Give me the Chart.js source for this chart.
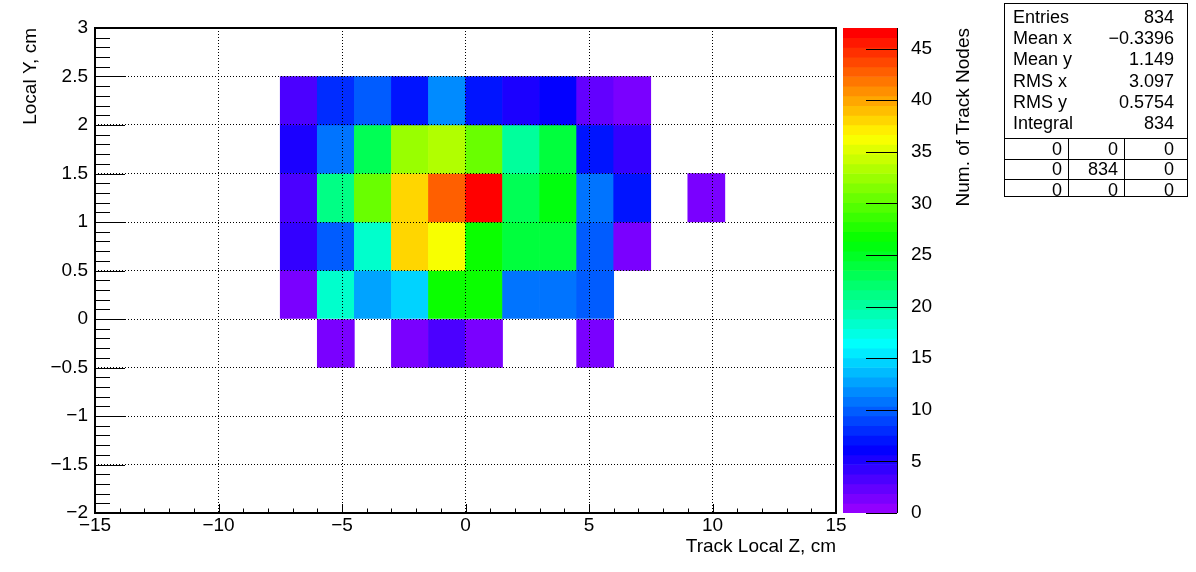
<!DOCTYPE html>
<html>
<head>
<meta charset="utf-8">
<script src="https://cdn.jsdelivr.net/npm/chart.js@4"></script>
<style>
  body { margin: 0; background: #fff; font-family: "Liberation Sans", Arial, sans-serif; color: #000; }
  #wrap { position: relative; width: 1196px; height: 572px; overflow: hidden; }
  #main { position: absolute; left: 0; top: 0; }
  #zbar { position: absolute; left: 843px; top: 0; }
  #ztitle { position: absolute; left: 953px; top: 28px; width: 20px; line-height: 20px; font-size: 19px;
            writing-mode: vertical-rl; transform: rotate(180deg); white-space: nowrap; }
  #stats { position: absolute; left: 1004px; top: 3px; width: 184px; height: 194px; border: 1px solid #000;
           box-sizing: border-box; font-size: 18px; }
  #stats div { position: absolute; line-height: 20px; white-space: nowrap; }
  #stats .hl { left: 0; right: 0; height: 0; border-top: 1px solid #000; }
  #stats .vl { width: 0; bottom: 0; border-left: 1px solid #000; }
</style>
</head>
<body>
<div id="wrap">
  <canvas id="main" width="1196" height="572"></canvas>
  <canvas id="zbar" width="161" height="572"></canvas>
  <div id="ztitle">Num. of Track Nodes</div>
  <div id="stats"></div>
</div>
<script>
"use strict";

// ---------- Data ----------
// lower edges of the filled bins (bin size 1.5 cm in Z, 0.5 cm in Y)
const zBinLow = [-7.5, -6, -4.5, -3, -1.5, 0, 1.5, 3, 4.5, 6, 7.5, 9];
const yBinLow = [2, 1.5, 1, 0.5, 0, -0.5];
const zBinWidth = 1.5;
const yBinHeight = 0.5;

// counts per Y row, one entry per zBinLow column
const countsY2p0 = [3, 8, 10, 7, 12, 7, 5, 6, 2, 1, 0, 0];
const countsY1p5 = [5, 11, 23, 32, 33, 31, 20, 24, 7, 4, 0, 0];
const countsY1p0 = [3, 21, 31, 38, 43, 47, 23, 26, 11, 7, 0, 1];
const countsY0p5 = [4, 10, 18, 38, 36, 27, 24, 24, 10, 1, 0, 0];
const countsY0p0 = [1, 18, 13, 15, 27, 27, 11, 11, 10, 0, 0, 0];
const countsYm0p5 = [0, 1, 0, 1, 3, 1, 0, 0, 1, 0, 0, 0];
const rowCounts = [countsY2p0, countsY1p5, countsY1p0, countsY0p5, countsY0p0, countsYm0p5];

const zMax = 47;
const nColors = 50;

const statNames = ["Entries", "Mean x", "Mean y", "RMS x", "RMS y", "Integral"];
const statValues = ["834", "\u22120.3396", "1.149", "3.097", "0.5754", "834"];
const statGrid = [["0", "0", "0"], ["0", "834", "0"], ["0", "0", "0"]];

// ---------- Helpers ----------
const FONT = '"Liberation Sans", Arial, sans-serif';
Chart.defaults.font.family = FONT;
Chart.defaults.color = "#000";

// ROOT "pretty palette": 50 hues from violet to red
function paletteColor(i) {
  return `hsl(${280 - (i + 1) * (280 / nColors)}, 100%, 50%)`;
}
function zColor(v) {
  return paletteColor(Math.min(nColors - 1, Math.floor(v * nColors / zMax + 0.01)));
}
function fmt(v) {
  return v < 0 ? "\u2212" + Math.abs(v) : String(v);
}

// ticks drawn inside the frame, ROOT style
const insideTicks = {
  id: "insideTicks",
  afterDraw(chart, args, opts) {
    const { ctx, chartArea: a } = chart;
    ctx.save();
    ctx.strokeStyle = "#000";
    ctx.lineWidth = 1;
    ctx.setLineDash([]);
    ctx.beginPath();
    (opts.axes || []).forEach((o) => {
      const s = chart.scales[o.id];
      const n = Math.round((s.max - s.min) / o.minor);
      for (let k = 0; k <= n; k++) {
        const v = s.min + k * o.minor;
        const r = v / o.major;
        const len = Math.abs(r - Math.round(r)) < 1e-6 ? o.majorLen : o.minorLen;
        const p = Math.round(s.getPixelForValue(v)) + 0.5;
        if (o.id === "x") { ctx.moveTo(p, a.bottom); ctx.lineTo(p, a.bottom - len); }
        else if (o.side === "right") { ctx.moveTo(a.right, p); ctx.lineTo(a.right - len, p); }
        else { ctx.moveTo(a.left, p); ctx.lineTo(a.left + len, p); }
      }
    });
    ctx.stroke();
    if (opts.frame) {
      ctx.lineWidth = 2;
      ctx.strokeRect(a.left, a.top, a.right - a.left, a.bottom - a.top);
    } else {
      ctx.beginPath();
      ctx.moveTo(Math.round(a.right) + 0.5, a.top);
      ctx.lineTo(Math.round(a.right) + 0.5, a.bottom);
      ctx.stroke();
    }
    ctx.restore();
  },
};

// ---------- Main histogram ----------
const cellSets = yBinLow.map((ylo, r) => ({
  data: zBinLow
    .map((zlo, j) => ({ x: zlo + zBinWidth / 2, y: [ylo, ylo + yBinHeight], n: rowCounts[r][j] }))
    .filter((p) => p.n > 0),
  backgroundColor: (c) => (c.raw ? zColor(c.raw.n) : "#000"),
  borderWidth: 0,
  grouped: false,
  barPercentage: 1,
  categoryPercentage: 1,
}));

new Chart(document.getElementById("main"), {
  type: "bar",
  data: { datasets: cellSets },
  options: {
    responsive: false,
    animation: false,
    events: [],
    layout: { padding: { top: 28, right: 360, left: 0, bottom: 0 } },
    plugins: {
      legend: { display: false },
      tooltip: { enabled: false },
      insideTicks: {
        frame: true,
        axes: [
          { id: "x", minor: 1, major: 5, minorLen: 4.5, majorLen: 9 },
          { id: "y", minor: 0.1, major: 0.5, minorLen: 15, majorLen: 30 },
        ],
      },
    },
    scales: {
      x: {
        type: "linear", min: -15, max: 15, offset: false,
        grid: { color: "#000", lineWidth: 1, drawTicks: false, offset: false, z: 1 },
        border: { display: false, dash: [1, 2] },
        ticks: { stepSize: 5, includeBounds: false, padding: 1, autoSkip: false, maxRotation: 0,
                 font: { size: 19 }, callback: fmt },
        title: { display: true, text: "Track Local Z, cm", align: "end", font: { size: 19 },
                 padding: { top: 0, bottom: 14 } },
        afterFit(s) { s.height = 59; },
      },
      y: {
        type: "linear", min: -2, max: 3,
        grid: { color: "#000", lineWidth: 1, drawTicks: false, z: 1 },
        border: { display: false, dash: [1, 2] },
        ticks: { stepSize: 0.5, includeBounds: false, padding: 7, autoSkip: false,
                 font: { size: 19 }, callback: fmt },
        title: { display: true, text: "Local Y, cm", align: "end", font: { size: 19 },
                 padding: { top: 19, bottom: 0 } },
        afterFit(s) { s.width = 95; },
      },
    },
  },
  plugins: [insideTicks],
});

// ---------- Colour bar ----------
const zLevels = Array.from({ length: nColors }, (_, i) => i * zMax / nColors);

new Chart(document.getElementById("zbar"), {
  type: "bar",
  data: {
    labels: ["z"],
    datasets: [{
      data: zLevels.map((lo) => ({ x: "z", y: [lo, lo + zMax / nColors] })),
      backgroundColor: zLevels.map((_, i) => paletteColor(i)),
      borderWidth: 0,
      barPercentage: 1,
      categoryPercentage: 1,
    }],
  },
  options: {
    responsive: false,
    animation: false,
    events: [],
    layout: { padding: { top: 28, bottom: 59, left: 0, right: 0 } },
    plugins: {
      legend: { display: false },
      tooltip: { enabled: false },
      insideTicks: {
        frame: false,
        axes: [{ id: "y", side: "right", minor: 5, major: 5, minorLen: 31, majorLen: 31 }],
      },
    },
    scales: {
      x: { display: false },
      y: {
        position: "right", min: 0, max: zMax,
        grid: { display: false },
        border: { display: false },
        ticks: { stepSize: 5, includeBounds: false, padding: 6, font: { size: 19 } },
        afterFit(s) { s.width = 107; },
      },
    },
  },
  plugins: [insideTicks],
});

// ---------- Stats box ----------
const stats = document.getElementById("stats");
function put(html, css, cls) {
  const d = document.createElement("div");
  d.innerHTML = html;
  if (cls) d.className = cls;
  Object.assign(d.style, css);
  stats.appendChild(d);
  return d;
}
statNames.forEach((name, i) => {
  const top = 3 + i * 21.2 + "px";
  put(name, { left: "8px", top });
  put(statValues[i], { right: "13px", top });
});
const gridTop = 134;
const rowH = 20.6;
const colRight = [120, 64, 8];
[0, 1, 2].forEach((k) => put("", { top: gridTop + k * rowH + "px" }, "hl"));
[63, 119].forEach((x) => put("", { left: x + "px", top: gridTop + "px" }, "vl"));
statGrid.forEach((row, r) => {
  row.forEach((txt, c) => {
    put(txt, { right: colRight[c] + 5 + "px", top: gridTop + r * rowH + 0.5 + "px" });
  });
});
</script>
</body>
</html>
